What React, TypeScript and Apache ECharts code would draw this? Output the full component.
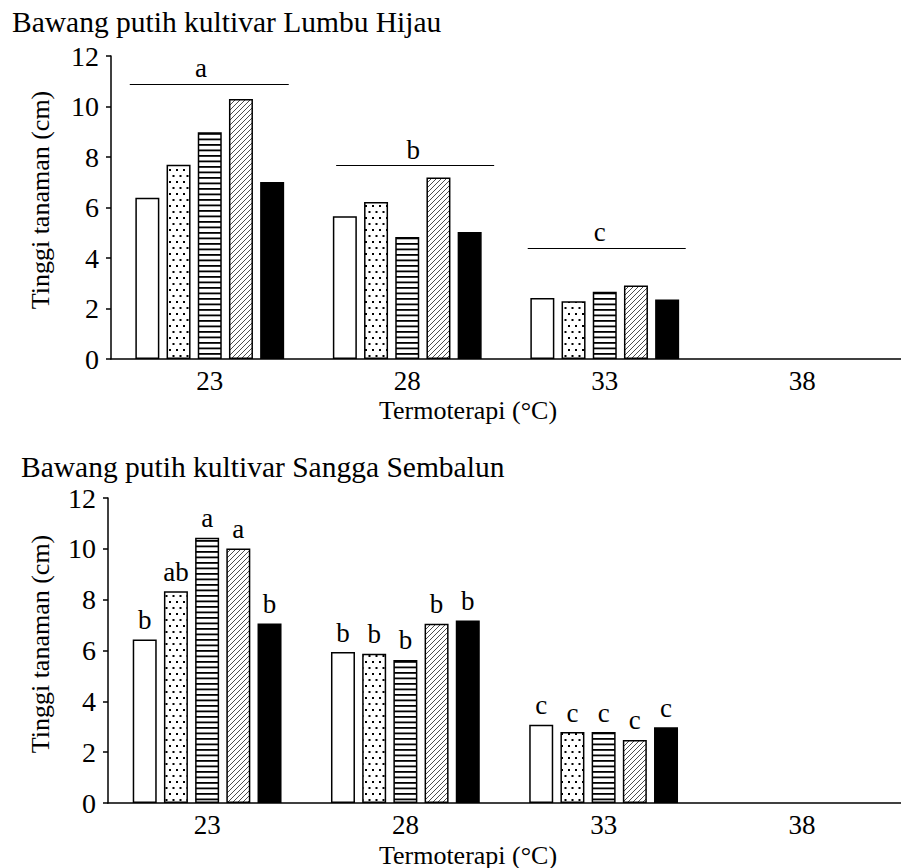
import React, { useEffect, useRef } from "react";
import * as echarts from "echarts";

const categories = ["23", "28", "33", "38"];
const seriesNames = ["T1", "T2", "T3", "T4", "T5"];

// Top chart: Lumbu Hijau
const topWhite = [6.39, 5.65, 2.42, null];
const topDots = [7.69, 6.22, 2.29, null];
const topHLines = [8.98, 4.83, 2.66, null];
const topHatch = [10.3, 7.19, 2.91, null];
const topBlack = [7.01, 5.03, 2.36, null];

// group letters (top chart)
const groupLetters = ["a", "b", "c"];
const groupLineY = [10.9, 7.67, 4.4];
const groupLineStart = [-0.405, 0.64, 1.61];
const groupLineEnd = [0.4, 1.44, 2.41];
const groupLetterX = [-0.045, 1.03, 1.975];

// Bottom chart: Sangga Sembalun
const botWhite = [6.43, 5.94, 3.08, null];
const botDots = [8.33, 5.87, 2.79, null];
const botHLines = [10.44, 5.63, 2.79, null];
const botHatch = [10.01, 7.05, 2.48, null];
const botBlack = [7.06, 7.18, 2.98, null];

const botWhiteLetters = ["b", "b", "c", ""];
const botDotsLetters = ["ab", "b", "c", ""];
const botHLinesLetters = ["a", "b", "c", ""];
const botHatchLetters = ["a", "b", "c", ""];
const botBlackLetters = ["b", "b", "c", ""];

const yTicks = { min: 0, max: 12, interval: 2 };

const FONT = "Liberation Serif, Times New Roman, serif";

function makeCanvas(w: number, h: number, draw: (ctx: CanvasRenderingContext2D) => void) {
  const c = document.createElement("canvas");
  c.width = w;
  c.height = h;
  const ctx = c.getContext("2d")!;
  ctx.fillStyle = "#fff";
  ctx.fillRect(0, 0, w, h);
  ctx.fillStyle = "#000";
  ctx.strokeStyle = "#000";
  draw(ctx);
  return c;
}

export default function App() {
  const ref = useRef<HTMLDivElement>(null);
  useEffect(() => {
    if (!ref.current) return;
    const chart = echarts.init(ref.current, undefined, { renderer: "svg" });

    const dotsCanvas = makeCanvas(7, 12, (ctx) => {
      ctx.fillRect(1, 1, 2, 2);
      ctx.fillRect(4.5, 7, 2, 2);
    });
    const hlinesCanvas = makeCanvas(6, 11, (ctx) => {
      ctx.fillRect(0, 1, 6, 1.8);
      ctx.fillRect(0, 6.5, 6, 1.8);
    });
    const hatchCanvas = makeCanvas(5, 5, (ctx) => {
      ctx.lineWidth = 0.7;
      ctx.beginPath();
      ctx.moveTo(-1, 6);
      ctx.lineTo(6, -1);
      ctx.moveTo(-6, 6);
      ctx.lineTo(1, -1);
      ctx.moveTo(4, 6);
      ctx.lineTo(11, -1);
      ctx.stroke();
    });

    const fills: any[] = [
      "#fff",
      { image: dotsCanvas, repeat: "repeat" },
      { image: hlinesCanvas, repeat: "repeat" },
      { image: hatchCanvas, repeat: "repeat" },
      "#000",
    ];

    const topData = [topWhite, topDots, topHLines, topHatch, topBlack];
    const botData = [botWhite, botDots, botHLines, botHatch, botBlack];
    const botLetters = [botWhiteLetters, botDotsLetters, botHLinesLetters, botHatchLetters, botBlackLetters];

    const catAxis = (gridIndex: number) => ({
      type: "category",
      gridIndex,
      data: categories,
      axisLine: { onZero: false, lineStyle: { color: "#000", width: 1.5 } },
      axisTick: { alignWithLabel: true, length: 5, lineStyle: { color: "#000", width: 1.5 } },
      axisLabel: { color: "#000", fontSize: 27, fontFamily: FONT, margin: 8 },
    });
    const valAxis = (gridIndex: number) => ({
      type: "value",
      gridIndex,
      min: yTicks.min,
      max: yTicks.max,
      interval: yTicks.interval,
      splitLine: { show: false },
      axisLine: { show: true, onZero: false, lineStyle: { color: "#000", width: 1.5 } },
      axisTick: { show: true, length: 5, lineStyle: { color: "#000", width: 1.5 } },
      axisLabel: { color: "#000", fontSize: 28, fontFamily: FONT, margin: 12 },
    });

    const barCommon = {
      type: "bar",
      barWidth: 24,
      barGap: "30%",
      itemStyle: { borderColor: "#000", borderWidth: 1.5 },
    };

    const series: any[] = [];
    topData.forEach((d, i) => {
      series.push({
        ...barCommon,
        name: seriesNames[i],
        xAxisIndex: 0,
        yAxisIndex: 0,
        data: d,
        itemStyle: { ...barCommon.itemStyle, color: fills[i] },
      });
    });
    botData.forEach((d, i) => {
      series.push({
        ...barCommon,
        name: seriesNames[i],
        xAxisIndex: 2,
        yAxisIndex: 1,
        data: d,
        itemStyle: { ...barCommon.itemStyle, color: fills[i] },
        label: {
          show: true,
          position: "top",
          distance: 6,
          color: "#000",
          fontSize: 27,
          fontFamily: FONT,
          formatter: (p: any) => botLetters[i][p.dataIndex] || "",
        },
      });
    });
    series.push({
      type: "lines",
      coordinateSystem: "cartesian2d",
      xAxisIndex: 1,
      yAxisIndex: 0,
      lineStyle: { color: "#000", width: 1.2, opacity: 1 },
      data: groupLetters.map((_, i) => ({
        coords: [
          [groupLineStart[i], groupLineY[i]],
          [groupLineEnd[i], groupLineY[i]],
        ],
      })),
    });
    series.push({
      type: "scatter",
      xAxisIndex: 1,
      yAxisIndex: 0,
      symbolSize: 0,
      itemStyle: { color: "#000", opacity: 1 },
      label: {
        show: true,
        position: "top",
        distance: 2,
        color: "#000",
        opacity: 1,
        fontSize: 27,
        fontFamily: FONT,
        formatter: (p: any) => groupLetters[p.dataIndex],
      },
      data: groupLetters.map((_, i) => [groupLetterX[i], groupLineY[i]]),
    });

    const textStyle = (text: string, fontSize: number, align: string) => ({
      text,
      fill: "#000",
      fontSize,
      fontFamily: FONT,
      align,
      verticalAlign: "middle",
    });

    chart.setOption({
      animation: false,
      backgroundColor: "#fff",
      grid: [
        { left: 111, top: 56, width: 800, height: 303 },
        { left: 108, top: 498, width: 801, height: 305 },
      ],
      xAxis: [
        catAxis(0),
        { type: "value", gridIndex: 0, min: -0.5, max: 3.5, show: false },
        catAxis(1),
      ],
      yAxis: [valAxis(0), valAxis(1)],
      series,
      graphic: [
        { type: "text", x: 12, y: 22, style: textStyle("Bawang putih kultivar Lumbu Hijau", 29.5, "left") },
        { type: "text", x: 21, y: 467, style: textStyle("Bawang putih kultivar Sangga Sembalun", 29.5, "left") },
        { type: "text", x: 40, y: 200, rotation: Math.PI / 2, style: textStyle("Tinggi tanaman (cm)", 26, "center") },
        { type: "text", x: 40, y: 644, rotation: Math.PI / 2, style: textStyle("Tinggi tanaman (cm)", 26, "center") },
        { type: "text", x: 468, y: 410, style: textStyle("Termoterapi (°C)", 26, "center") },
        { type: "text", x: 468, y: 855, style: textStyle("Termoterapi (°C)", 26, "center") },
      ],
    });
    return () => chart.dispose();
  }, []);
  return (
    <div
      ref={ref}
      style={{ position: "absolute", left: 0, top: 0, width: 901, height: 868, overflow: "hidden" }}
    />
  );
}
